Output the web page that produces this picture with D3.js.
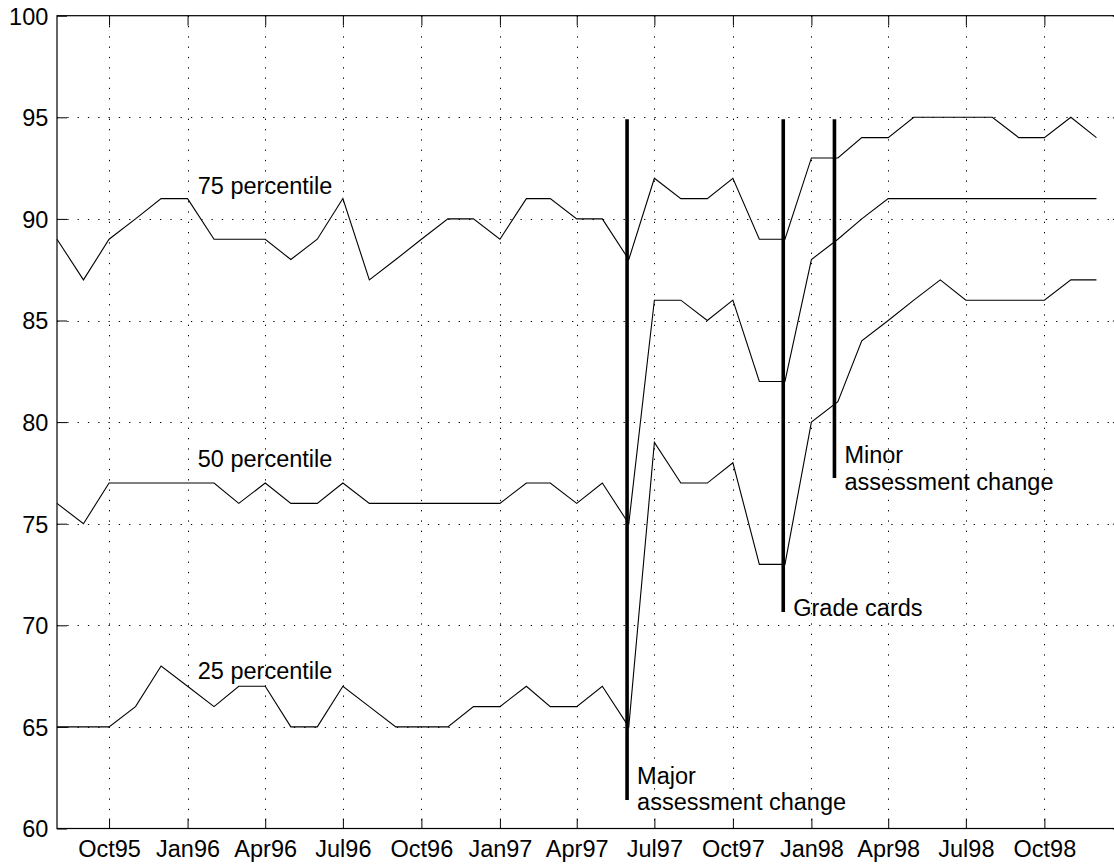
<!DOCTYPE html>
<html><head><meta charset="utf-8">
<script src="https://cdn.jsdelivr.net/npm/d3@7"></script>
<style>
html,body{margin:0;padding:0;background:#fff;overflow:hidden;}
svg{display:block;}
text{font-family:"Liberation Sans",Arial,Helvetica,sans-serif;font-size:23.5px;fill:#000;}
</style></head><body>
<svg id="chart" width="1114" height="865"></svg>
<script>
// ---------- data ----------
const months = ["1995-08","1995-09","1995-10","1995-11","1995-12",
  "1996-01","1996-02","1996-03","1996-04","1996-05","1996-06","1996-07","1996-08","1996-09","1996-10","1996-11","1996-12",
  "1997-01","1997-02","1997-03","1997-04","1997-05","1997-06","1997-07","1997-08","1997-09","1997-10","1997-11","1997-12",
  "1998-01","1998-02","1998-03","1998-04","1998-05","1998-06","1998-07","1998-08","1998-09","1998-10","1998-11","1998-12"];
const p75 = [89,87,89,90,91, 91,89,89,89,88,89,91,87,88,89,90,90, 89,91,91,90,90,88,92,91,91,92,89,89, 93,93,94,94,95,95,95,95,94,94,95,94];
const p50 = [76,75,77,77,77, 77,77,76,77,76,76,77,76,76,76,76,76, 76,77,77,76,77,75,86,86,85,86,82,82, 88,89,90,91,91,91,91,91,91,91,91,91];
const p25 = [65,65,65,66,68, 67,66,67,67,65,65,67,66,65,65,65,66, 66,67,66,66,67,65,79,77,77,78,73,73, 80,81,84,85,86,87,86,86,86,86,87,87];
const seriesNames = ["75 percentile","50 percentile","25 percentile"];
const seriesLabelDate = "1996-01-13";
const seriesLabelValue = [91.25, 77.8, 67.35];

const xDomain = ["1995-08-01","1999-01-01"];
const xTicks = ["1995-10","1996-01","1996-04","1996-07","1996-10","1997-01","1997-04","1997-07","1997-10","1998-01","1998-04","1998-07","1998-10"];
const yDomain = [60,100];
const yTicks = [60,65,70,75,80,85,90,95,100];

const eventDates = ["1997-05-30","1997-11-29","1998-01-28"];
const eventTop = [94.9, 94.9, 94.9];
const eventBottom = [61.4, 70.65, 77.25];
const eventLabels = [["Major","assessment change"],["Grade cards"],["Minor","assessment change"]];
const eventLabelValue = [62.2, 70.45, 77.98];

// ---------- layout ----------
const L = 57, T = 15.7, B = 828.5, R = 1122.9;
const lineGap = [26.5, 0, 26.5];
const parse = s => new Date(s.length === 7 ? s + "-01T00:00:00Z" : s + "T00:00:00Z");

const svg = d3.select("#chart");
const x = d3.scaleUtc().domain(xDomain.map(parse)).range([L, R]);
const y = d3.scaleLinear().domain(yDomain).range([B, T]);

// grid
const grid = svg.append("g").attr("stroke", "#000").attr("stroke-width", 1).attr("stroke-dasharray", "1.3 9");
grid.selectAll(".vg").data(xTicks).join("line")
  .attr("x1", d => Math.round(x(parse(d))) + 0.5).attr("x2", d => Math.round(x(parse(d))) + 0.5)
  .attr("y1", T).attr("y2", B);
grid.selectAll(".hg").data(yTicks.filter(v => v > yDomain[0] && v < yDomain[1])).join("line")
  .attr("y1", d => Math.round(y(d)) + 0.5).attr("y2", d => Math.round(y(d)) + 0.5)
  .attr("x1", L).attr("x2", R);

// axes
const fmt = d3.utcFormat("%b%y");
const xAxis = d3.axisBottom(x).tickValues(xTicks.map(parse)).tickFormat(fmt).tickSizeInner(-10).tickSizeOuter(0).tickPadding(12.3);
const gx = svg.append("g").attr("transform", `translate(0,${B})`).call(xAxis);
const xTop = d3.axisTop(x).tickValues(xTicks.map(parse)).tickFormat("").tickSizeInner(-10).tickSizeOuter(0);
const gxt = svg.append("g").attr("transform", `translate(0,${T})`).call(xTop);
const yAxis = d3.axisLeft(y).tickValues(yTicks).tickFormat(d3.format("d")).tickSizeInner(-10).tickSizeOuter(0).tickPadding(8.7);
const gy = svg.append("g").attr("transform", `translate(${L},0)`).call(yAxis);
const yRight = d3.axisRight(y).tickValues(yTicks).tickFormat("").tickSizeInner(-10).tickSizeOuter(0);
const gyr = svg.append("g").attr("transform", `translate(${R},0)`).call(yRight);
[gx, gxt, gy, gyr].forEach(g => {
  g.select(".domain").remove();
  g.selectAll(".tick line").attr("stroke", "#000").attr("stroke-width", 1);
  g.selectAll("text").attr("font-size", null).attr("font-family", null).attr("fill", "#000");
  g.attr("font-size", null).attr("font-family", null);
});
gy.selectAll("text").attr("dy", "0.36em");

// frame
svg.append("rect").attr("x", L).attr("y", T).attr("width", R - L).attr("height", B - T)
  .attr("fill", "none").attr("stroke", "#000").attr("stroke-width", 1.2);

// series
const line = d3.line().x(d => x(d.date)).y(d => y(d.v));
[p75, p50, p25].forEach(arr => {
  const pts = arr.map((v, i) => ({date: parse(months[i]), v}));
  svg.append("path").datum(pts).attr("d", line)
    .attr("fill", "none").attr("stroke", "#000").attr("stroke-width", 1.1).attr("stroke-linejoin", "miter");
});

// series labels
svg.selectAll(".slab").data(seriesNames).join("text")
  .attr("x", x(parse(seriesLabelDate)))
  .attr("y", (d, i) => y(seriesLabelValue[i]))
  .text(d => d);

// event lines
eventDates.forEach((d, i) => {
  const xx = x(parse(d));
  svg.append("line").attr("x1", xx).attr("x2", xx)
    .attr("y1", y(eventTop[i])).attr("y2", y(eventBottom[i]))
    .attr("stroke", "#000").attr("stroke-width", 3.6);
  const t = svg.append("text").attr("x", xx + 10).attr("y", y(eventLabelValue[i]));
  eventLabels[i].forEach((s, j) => {
    t.append("tspan").attr("x", xx + 10).attr("dy", j === 0 ? 0 : lineGap[i]).text(s);
  });
});
</script>
</body></html>
